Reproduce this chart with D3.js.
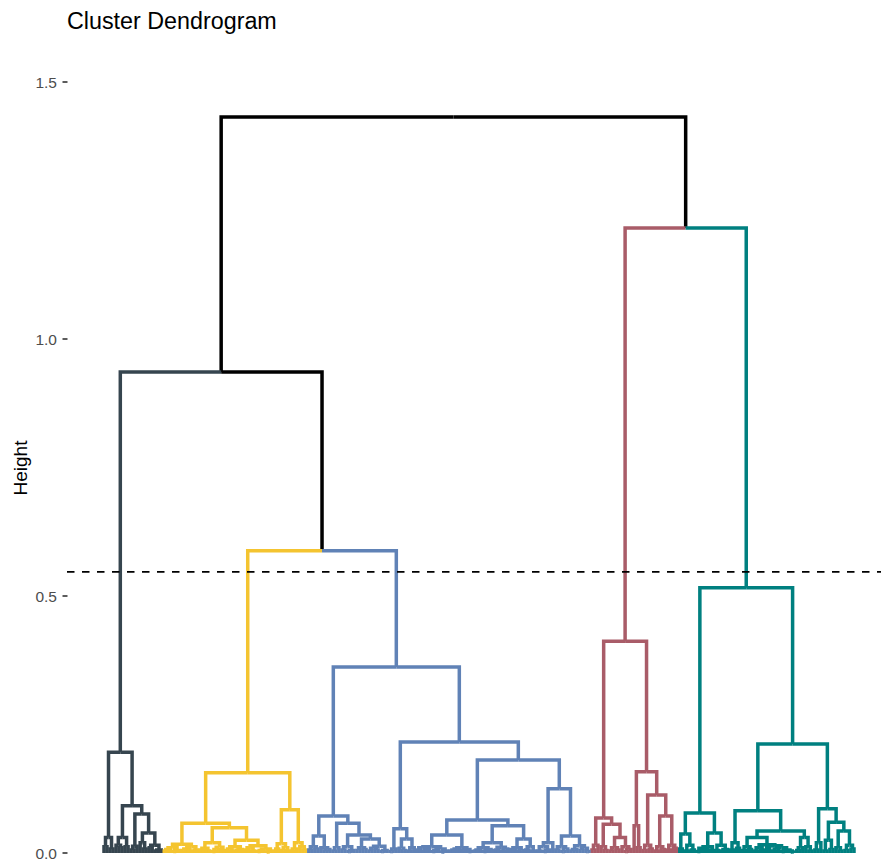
<!DOCTYPE html>
<html>
<head>
<meta charset="utf-8">
<script src="https://cdn.jsdelivr.net/npm/d3@7"></script>
<style>
  html, body { margin: 0; padding: 0; background: #ffffff; }
  svg { display: block; font-family: "Liberation Sans", Arial, sans-serif; }
</style>
</head>
<body>
<svg id="chart" width="881" height="861"></svg>
<script>
// ---------------- DATA ----------------
const chartTitle = "Cluster Dendrogram";
const yAxisTitle = "Height";
const yTicks = [0, 0.5, 1.0, 1.5];
const yTickLabels = ["0.0", "0.5", "1.0", "1.5"];
const cutHeight = 0.547;

// the five clusters, left to right
const clusterNames = ["c1", "c2", "c3", "c4", "c5"];
const clusterColors = ["#36454F", "#F4C430", "#6082B6", "#A95C68", "#008080"];

// merge trees of every cluster (leaf = ".", "(a,b)h" = merge at height h)
const clusterTrees = [
  // c1 (dark)
  "(((.,.)0.012,(.,.)0.008)0.03,(((.,(.,.)0.01)0.015,(.,.)0.012)0.03,(((.,.)0.006,.)0.013,((.,(.,.)0.008)0.02,((.,.)0.01,((.,.)0.004,.)0.006)0.015)0.039)0.076)0.092)0.196",
  // c2 (yellow)
  "((((((.,.)0.004,.)0.007,((.,.)0.003,.)0.005)0.01,(((.,.)0.005,(.,.)0.004)0.008,(.,.)0.006)0.012)0.017," +
  "((((.,.)0.006,(.,.)0.004)0.009,(((.,.)0.003,.)0.007,(.,.)0.005)0.011)0.02," +
  "(((.,(.,.)0.004)0.008,((.,.)0.005,.)0.007)0.012,(((.,.)0.006,(.,.)0.004)0.01,(((.,.)0.003,.)0.005,((.,.)0.002,.)0.004)0.008)0.014)0.025)0.049)0.058," +
  "(((.,.)0.008,((.,.)0.005,.)0.01)0.018,(((.,.)0.004,.)0.008,(.,(.,.)0.006)0.012)0.02)0.084)0.156",
  // c3 (blue)
  "(((((.,.)0.006,(.,.)0.008)0.012,(.,((.,.)0.004,.)0.007)0.01)0.033," +
  "(((.,.)0.004,.)0.01,(((.,.)0.006,((.,.)0.003,.)0.005)0.012,(((.,.)0.005,(.,.)0.007)0.01,(((.,.)0.004,(.,.)0.006)0.009,((.,.)0.003,.)0.005)0.013)0.027)0.035)0.058)0.072," +
  "((((.,.)0.003,.)0.008,((.,(.,.)0.005)0.009,((.,.)0.004,.)0.01)0.027)0.047," +
  "((((((.,.)0.006,((.,.)0.004,.)0.007)0.01,(((.,.)0.003,.)0.005,((.,.)0.002,.)0.004)0.008)0.012,((((.,.)0.004,.)0.006,.)0.008,((.,.)0.005,(.,.)0.003)0.007)0.01)0.035," +
  "(((((.,.)0.004,.)0.006,((.,.)0.003,(.,.)0.005)0.007)0.01,((.,.)0.006,((.,.)0.004,.)0.008)0.011)0.02,(((.,(.,.)0.004)0.007,(.,.)0.005)0.01,((.,.)0.006,(.,.)0.004)0.012)0.027)0.053)0.064," +
  "((((.,.)0.004,((.,.)0.003,.)0.006)0.012,.)0.02,(((.,.)0.006,((.,.)0.003,.)0.008)0.012,(((.,.)0.004,.)0.007,((.,.)0.005,(.,.)0.003)0.009)0.014)0.033)0.125)0.181)0.216)0.362",
  // c4 (red)
  "((((.,.)0.006,.)0.015,((.,(.,.)0.005)0.012,(((.,.)0.004,(.,.)0.006)0.01,(.,((.,.)0.003,.)0.007)0.012)0.03)0.056)0.068," +
  "((.,(.,.)0.01)0.053,(((.,.)0.005,(.,.)0.008)0.015,(((.,.)0.004,(.,.)0.007)0.012,((.,.)0.006,(.,.)0.009)0.015)0.072)0.113)0.158)0.412",
  // c5 (teal)
  "((((.,.)0.008,((.,.)0.004,(.,.)0.006)0.015)0.037,((((.,.)0.003,((.,.)0.004,.)0.006)0.009,.)0.012,((.,.)0.005,((.,.)0.004,.)0.007)0.015)0.039)0.078," +
  "((((.,.)0.006,(.,.)0.009)0.02,((((.,.)0.005,(.,.)0.007)0.012,(((.,.)0.004,(.,.)0.006)0.01,((.,.)0.012,(((.,.)0.004,.)0.008,((.,.)0.003,(.,(.,.)0.002)0.004)0.006)0.01)0.014)0.016)0.03," +
  "(((.,.)0.005,.)0.01,(.,(.,.)0.004)0.012)0.03)0.043)0.082," +
  "(((.,.)0.006,.)0.02,(((.,.)0.004,(.,.)0.007)0.025,((.,(.,.)0.004)0.01,((.,.)0.005,(.,.)0.008)0.015)0.043)0.06)0.086)0.212)0.516"
];

// merges above the clusters (#k = cluster k)
const upperTree = "((#0,(#1,#2)0.588)0.936,(#3,#4)1.216)1.432";

// ---------------- PARSING ----------------
function parseTree(s, clusterIndex, clusterRoots) {
  let i = 0;
  function readNum() {
    const j = i;
    while (i < s.length && /[0-9.]/.test(s[i])) i++;
    return +s.slice(j, i);
  }
  function node() {
    if (s[i] === "(") {
      i++;
      const a = node();
      i++; // ,
      const b = node();
      i++; // )
      const h = readNum();
      return { h: h, children: [a, b] };
    } else if (s[i] === "#") {
      i++;
      const k = +s[i]; i++;
      return clusterRoots[k];
    } else {
      i++;
      return { h: 0, cluster: clusterIndex };
    }
  }
  return node();
}

const clusterRoots = clusterTrees.map((t, k) => parseTree(t, k, null));
const treeData = parseTree(upperTree, -1, clusterRoots);

// ---------------- LAYOUT ----------------
const svg = d3.select("#chart");
const root = d3.hierarchy(treeData, d => d.children);
const leaves = root.leaves();

const x = d3.scaleLinear().domain([0, leaves.length - 1]).range([104, 854]);
const y = d3.scaleLinear().domain([0, 1.5]).range([853, 82]);

leaves.forEach((l, i) => { l.px = x(i); l.cl = l.data.cluster; });
root.eachAfter(n => {
  if (n.children) {
    n.px = d3.mean(n.children, c => c.px);
    const c0 = n.children[0].cl, c1 = n.children[1].cl;
    n.cl = (c0 === c1) ? c0 : -1;
  }
});

// ---------------- DRAW ----------------
svg.append("text")
  .attr("x", 67).attr("y", 29)
  .attr("font-size", 23.3).attr("fill", "#000")
  .text(chartTitle);

// y axis ticks + labels (no axis line)
const yAxis = svg.append("g");
yAxis.selectAll("line").data(yTicks).join("line")
  .attr("x1", 62.5).attr("x2", 67.5)
  .attr("y1", d => y(d)).attr("y2", d => y(d))
  .attr("stroke", "#333").attr("stroke-width", 1.6);
yAxis.selectAll("text").data(yTicks).join("text")
  .attr("x", 57).attr("y", d => y(d))
  .attr("dy", "0.36em")
  .attr("text-anchor", "end")
  .attr("font-size", 15.5).attr("fill", "#4D4D4D")
  .text((d, i) => yTickLabels[i]);

svg.append("text")
  .attr("transform", "translate(27,468) rotate(-90)")
  .attr("text-anchor", "middle")
  .attr("font-size", 19).attr("fill", "#000")
  .text(yAxisTitle);

// branches
const edges = root.descendants().filter(d => d.parent);
edges.sort((a, b) => (a.cl === -1 ? 0 : 1) - (b.cl === -1 ? 0 : 1));
svg.append("g")
  .attr("fill", "none")
  .attr("stroke-width", 3.5)
  .attr("stroke-linejoin", "miter")
  .attr("stroke-linecap", "butt")
  .selectAll("path").data(edges).join("path")
  .attr("stroke", d => d.cl === -1 ? "#000000" : clusterColors[d.cl])
  .attr("d", d => `M${d.parent.px},${y(d.parent.data.h)}H${d.px}V${y(d.data.h)}`);

// cut line
svg.append("line")
  .attr("x1", 67).attr("x2", 881)
  .attr("y1", y(cutHeight)).attr("y2", y(cutHeight))
  .attr("stroke", "#000").attr("stroke-width", 1.8)
  .attr("stroke-dasharray", "7.5,7.5");
</script>
</body>
</html>
